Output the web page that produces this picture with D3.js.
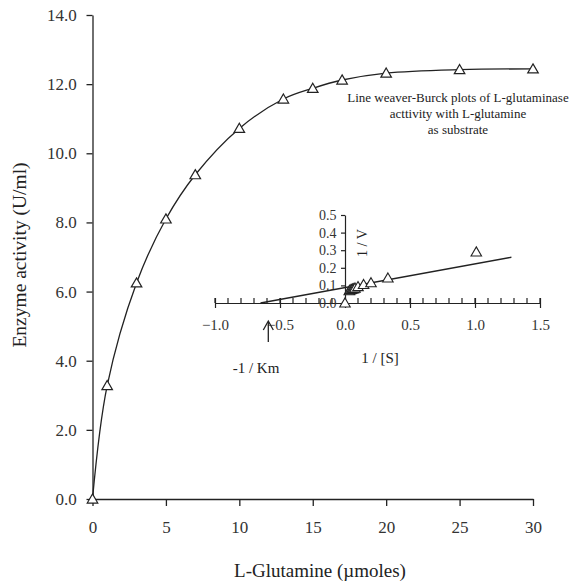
<!DOCTYPE html>
<html>
<head>
<meta charset="utf-8">
<script src="https://cdn.jsdelivr.net/npm/d3@7"></script>
<style>
  body { margin: 0; background: #fff; }
  svg, svg text { font-family: "Liberation Serif", "Times New Roman", serif; }
  svg { display: block; }
</style>
</head>
<body>
<div id="chart"></div>
<script>
var width = 573
var height = 582

// main plot: substrate vs activity
var substrate = [0, 1, 3, 5, 7, 10, 13, 15, 17, 20, 25, 30]
var activity = [0, 3.28, 6.25, 8.1, 9.38, 10.72, 11.57, 11.88, 12.12, 12.32, 12.42, 12.44]
var mainXTicks = [0, 5, 10, 15, 20, 25, 30]
var mainYTicks = [0, 2, 4, 6, 8, 10, 12, 14]

// inset: Lineweaver-Burk
var invS = [0, 0.033, 0.04, 0.05, 0.059, 0.067, 0.077, 0.1, 0.143, 0.2, 0.33, 1.01]
var invV = [0, 0.07, 0.075, 0.077, 0.08, 0.082, 0.085, 0.093, 0.105, 0.115, 0.142, 0.29]
var fitX = [-0.65, 1.28]
var fitY = [0, 0.26]
var kmMark = -0.59
var insetXTicks = [-1.0, -0.5, 0.0, 0.5, 1.0, 1.5]
var insetYTicks = [0, 0.1, 0.2, 0.3, 0.4, 0.5]

var titleLines = ["Line weaver-Burck plots of L-glutaminase", "acttivity with L-glutamine", "as substrate"]

var ink = "#222"

var svg = d3.select("#chart")
    .append("svg")
    .attr("width", width)
    .attr("height", height)

var x = d3.scaleLinear().domain([0, 30]).range([92.5, 533])
var y = d3.scaleLinear().domain([0, 14]).range([499, 15])

// main axes
var xAxis = svg.append("g")
    .attr("transform", "translate(0," + y(0) + ")")
    .call(d3.axisBottom(x).tickValues(mainXTicks).tickSize(7).tickSizeOuter(0).tickFormat(d3.format("d")))
var yAxis = svg.append("g")
    .attr("transform", "translate(" + x(0) + ",0)")
    .call(d3.axisLeft(y).tickValues(mainYTicks).tickSize(6).tickSizeOuter(0).tickFormat(d3.format(".1f")))

xAxis.attr("font-family", null).selectAll("text").attr("font-size", 17).attr("dy", "1.4em")
yAxis.attr("font-family", null).selectAll("text").attr("font-size", 17).attr("dx", "-0.4em")
svg.selectAll(".domain, .tick line").attr("stroke", ink).attr("stroke-width", 1.3)
svg.selectAll(".tick text").attr("fill", "#333")

svg.append("text")
    .attr("x", 320)
    .attr("y", 577)
    .attr("text-anchor", "middle")
    .attr("font-size", 19)
    .attr("fill", ink)
    .text("L-Glutamine (\u00b5moles)")

svg.append("text")
    .attr("transform", "translate(26,255) rotate(-90)")
    .attr("text-anchor", "middle")
    .attr("font-size", 19.5)
    .attr("fill", ink)
    .text("Enzyme activity (U/ml)")

var mainData = substrate.map(function(d, i) { return [d, activity[i]] })

svg.append("path")
    .datum(mainData)
    .attr("fill", "none")
    .attr("stroke", ink)
    .attr("stroke-width", 1.3)
    .attr("d", d3.line()
        .x(function(d) { return x(d[0]) })
        .y(function(d) { return y(d[1]) })
        .curve(d3.curveCatmullRom.alpha(0.5)))

var tri = d3.symbol().type(d3.symbolTriangle).size(48)

svg.append("g")
    .selectAll("path")
    .data(mainData)
    .enter()
    .append("path")
    .attr("d", tri)
    .attr("transform", function(d) { return "translate(" + x(d[0]) + "," + (y(d[1]) + 1) + ")" })
    .attr("fill", "#fff")
    .attr("stroke", ink)
    .attr("stroke-width", 1.2)

// title
svg.append("g")
    .selectAll("text")
    .data(titleLines)
    .enter()
    .append("text")
    .attr("x", 458)
    .attr("y", function(d, i) { return 102 + i * 16 })
    .attr("text-anchor", "middle")
    .attr("font-size", 13)
    .attr("fill", ink)
    .text(function(d) { return d })

// inset
var ix = d3.scaleLinear().domain([-1, 1.5]).range([215, 540])
var iy = d3.scaleLinear().domain([0, 0.5]).range([303, 215])

var inset = svg.append("g")

var minorTicks = d3.range(-10, 16).map(function(d) { return d / 10 })

inset.append("g")
    .selectAll("line")
    .data(minorTicks)
    .enter()
    .append("line")
    .attr("x1", function(d) { return ix(d) })
    .attr("x2", function(d) { return ix(d) })
    .attr("y1", iy(0) - 5)
    .attr("y2", iy(0))
    .attr("stroke", ink)
    .attr("stroke-width", 1.2)

var ixAxis = inset.append("g")
    .attr("transform", "translate(0," + iy(0) + ")")
    .call(d3.axisBottom(ix).tickValues(insetXTicks).tickSize(5).tickSizeOuter(0).tickFormat(d3.format(".1f")))
ixAxis.attr("font-family", null)
ixAxis.selectAll(".tick line").attr("y1", -5)
ixAxis.selectAll("text").attr("font-size", 15).attr("dy", "1.25em")

var iyAxis = inset.append("g")
    .attr("transform", "translate(" + ix(0) + ",0)")
    .call(d3.axisLeft(iy).tickValues(insetYTicks).tickSize(4).tickSizeOuter(0).tickFormat(d3.format(".1f")))
iyAxis.attr("font-family", null)
iyAxis.selectAll("text").attr("font-size", 14).attr("dx", "-0.1em")

inset.selectAll(".domain, .tick line").attr("stroke", ink).attr("stroke-width", 1.2)
inset.selectAll(".tick text").attr("fill", "#333")

inset.append("line")
    .attr("x1", ix(fitX[0]))
    .attr("y1", iy(fitY[0]))
    .attr("x2", ix(fitX[1]))
    .attr("y2", iy(fitY[1]))
    .attr("stroke", ink)
    .attr("stroke-width", 1.3)

inset.append("g")
    .selectAll("path")
    .data(invS)
    .enter()
    .append("path")
    .attr("d", tri)
    .attr("transform", function(d, i) { return "translate(" + ix(d) + "," + (iy(invV[i]) + 1) + ")" })
    .attr("fill", "#fff")
    .attr("stroke", ink)
    .attr("stroke-width", 1.1)

inset.append("text")
    .attr("transform", "translate(367,243) rotate(-90)")
    .attr("text-anchor", "middle")
    .attr("font-size", 14)
    .attr("fill", ink)
    .text("1 / V")

inset.append("text")
    .attr("x", 380)
    .attr("y", 363)
    .attr("text-anchor", "middle")
    .attr("font-size", 15)
    .attr("fill", ink)
    .text("1 / [S]")

// -1/Km arrow
var ax = ix(kmMark)
inset.append("line")
    .attr("x1", ax)
    .attr("x2", ax)
    .attr("y1", 342)
    .attr("y2", 322)
    .attr("stroke", ink)
    .attr("stroke-width", 1.3)

inset.append("path")
    .attr("d", "M" + (ax - 5) + ",330 L" + ax + ",321 L" + (ax + 5) + ",330")
    .attr("fill", "none")
    .attr("stroke", ink)
    .attr("stroke-width", 1.3)

inset.append("text")
    .attr("x", 256)
    .attr("y", 373)
    .attr("text-anchor", "middle")
    .attr("font-size", 15)
    .attr("fill", ink)
    .text("-1 / Km")
</script>
</body>
</html>
